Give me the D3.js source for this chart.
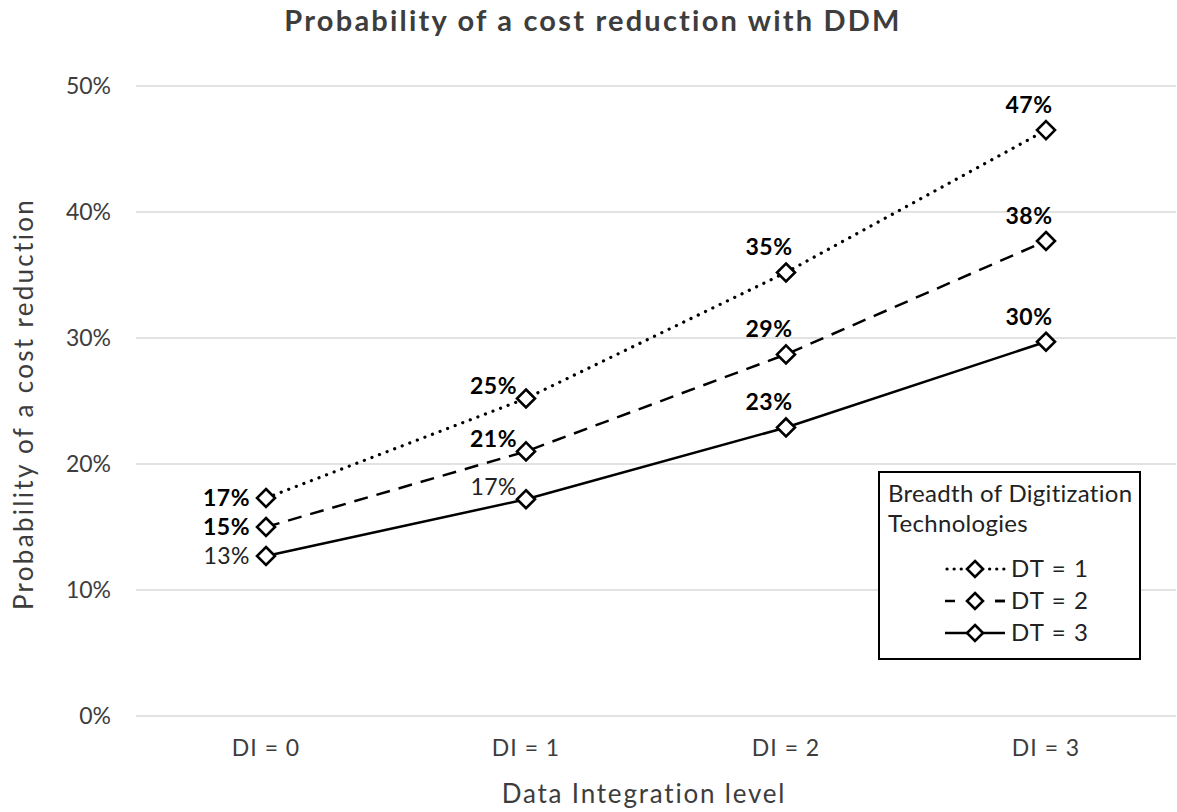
<!DOCTYPE html>
<html>
<head>
<meta charset="utf-8">
<script src="https://cdn.jsdelivr.net/npm/d3@7"></script>
<style>
  body { margin: 0; background: #fff; }
  svg { font-family: Lato, "Open Sans", sans-serif; }
</style>
</head>
<body>
<svg id="chart" width="1177" height="812"></svg>
<script>
var categories = ["DI = 0", "DI = 1", "DI = 2", "DI = 3"];
var seriesNames = ["DT = 1", "DT = 2", "DT = 3"];
var dt1 = [0.173, 0.252, 0.352, 0.465];
var dt2 = [0.150, 0.210, 0.287, 0.377];
var dt3 = [0.127, 0.172, 0.229, 0.297];
var dt1Labels = ["17%", "25%", "35%", "47%"];
var dt2Labels = ["15%", "21%", "29%", "38%"];
var dt3Labels = ["13%", "17%", "23%", "30%"];
// which labels are printed in bold
var dt1Bold = [true, true, true, true];
var dt2Bold = [true, true, true, true];
var dt3Bold = [false, false, true, true];
var yTicks = [0, 0.1, 0.2, 0.3, 0.4, 0.5];

var plotLeft = 136, plotRight = 1176;
var plotTop = 86, plotBottom = 716;
var textColor = "#3d3d3d";

var svg = d3.select("#chart");

var x = d3.scaleBand().domain(categories).range([plotLeft, plotRight]);
var y = d3.scaleLinear().domain([0, 0.5]).range([plotBottom, plotTop]);

// gridlines
svg.append("g")
    .selectAll("line")
    .data(yTicks)
    .join("line")
    .attr("x1", plotLeft).attr("x2", plotRight)
    .attr("y1", function(d) { return y(d); })
    .attr("y2", function(d) { return y(d); })
    .style("stroke", "#d9d9d9")
    .style("stroke-width", 1.5);

// y axis labels
var yAxis = d3.axisLeft(y).tickValues(yTicks).tickFormat(d3.format(".0%")).tickSize(0).tickPadding(25);
var yg = svg.append("g").attr("transform", "translate(" + plotLeft + ",0)").call(yAxis);
yg.select(".domain").remove();
yg.selectAll("text").style("font-size", "23px").style("fill", textColor).style("font-family", "Lato, sans-serif");

// x axis labels
var xAxis = d3.axisBottom(x).tickSize(0).tickPadding(24);
var xg = svg.append("g").attr("transform", "translate(0," + plotBottom + ")").call(xAxis);
xg.select(".domain").remove();
xg.selectAll("text").style("font-size", "23px").style("letter-spacing", "1px")
    .style("fill", textColor).style("font-family", "Lato, sans-serif");

// titles
svg.append("text")
    .attr("x", 593).attr("y", 31)
    .attr("text-anchor", "middle")
    .style("font-size", "29px").style("font-weight", "bold").style("letter-spacing", "2.2px")
    .style("fill", textColor)
    .text("Probability of a cost reduction with DDM");

svg.append("text")
    .attr("x", 644).attr("y", 803)
    .attr("text-anchor", "middle")
    .style("font-size", "26px").style("letter-spacing", "1.8px").style("fill", textColor)
    .text("Data Integration level");

svg.append("text")
    .attr("transform", "translate(33,404) rotate(-90)")
    .attr("text-anchor", "middle")
    .style("font-size", "26px").style("letter-spacing", "2.3px").style("fill", textColor)
    .text("Probability of a cost reduction");

var series = [
    { name: seriesNames[0], values: dt1, labels: dt1Labels, bold: dt1Bold, dash: "0.1 8", cap: "round", width: 3.2 },
    { name: seriesNames[1], values: dt2, labels: dt2Labels, bold: dt2Bold, dash: "14 9", cap: "butt", width: 2.5 },
    { name: seriesNames[2], values: dt3, labels: dt3Labels, bold: dt3Bold, dash: null, cap: "butt", width: 2.5 }
];

var line = d3.line()
    .x(function(d, i) { return x(categories[i]) + x.bandwidth() / 2; })
    .y(function(d) { return y(d); });

var diamond = function(cx, cy, r) {
    return "M" + cx + "," + (cy - r) + "L" + (cx + r) + "," + cy + "L" + cx + "," + (cy + r) + "L" + (cx - r) + "," + cy + "Z";
};

series.forEach(function(s) {
    svg.append("path")
        .datum(s.values)
        .attr("d", line)
        .style("fill", "none")
        .style("stroke", "#000")
        .style("stroke-width", s.width)
        .style("stroke-linecap", s.cap)
        .style("stroke-dasharray", s.dash);
});

series.forEach(function(s) {
    svg.append("g")
        .selectAll("path")
        .data(s.values)
        .join("path")
        .attr("d", function(d, i) { return diamond(x(categories[i]) + x.bandwidth() / 2, y(d), 9); })
        .style("fill", "#fff")
        .style("stroke", "#000")
        .style("stroke-width", 2.6);

    svg.append("g")
        .selectAll("text")
        .data(s.values)
        .join("text")
        .attr("x", function(d, i) {
            var cx = x(categories[i]) + x.bandwidth() / 2;
            if (i == 0) return cx - 16;
            if (i == 1) return cx - 9;
            return cx - 17;
        })
        .attr("y", function(d, i) {
            if (i == 0) return y(d) + 8;
            if (i == 1) return y(d) - 4;
            return y(d) - 17;
        })
        .attr("text-anchor", function(d, i) { return i < 2 ? "end" : "middle"; })
        .style("font-size", "23px")
        .style("letter-spacing", "0.5px")
        .style("font-weight", function(d, i) { return s.bold[i] ? "bold" : "normal"; })
        .style("fill", function(d, i) { return s.bold[i] ? "#000" : "#222"; })
        .text(function(d, i) { return s.labels[i]; });
});

// legend
var legend = svg.append("g");
legend.append("rect")
    .attr("x", 879).attr("y", 472).attr("width", 261).attr("height", 187)
    .style("fill", "#fff").style("stroke", "#000").style("stroke-width", 2);
legend.append("text").attr("x", 888).attr("y", 502)
    .style("font-size", "24px").style("letter-spacing", "0.3px").style("fill", "#222").text("Breadth of Digitization");
legend.append("text").attr("x", 888).attr("y", 532)
    .style("font-size", "24px").style("letter-spacing", "0.3px").style("fill", "#222").text("Technologies");

series.forEach(function(s, i) {
    var ly = 569 + i * 32;
    legend.append("line")
        .attr("x1", i == 0 ? 947 : 945).attr("x2", 1005)
        .attr("y1", ly).attr("y2", ly)
        .style("stroke", "#000")
        .style("stroke-width", s.width)
        .style("stroke-linecap", s.cap)
        .style("stroke-dasharray", i == 0 ? "0.1 7" : (i == 1 ? "10 40" : null));
    if (i == 1) {
        legend.append("line").attr("x1", 995).attr("x2", 1005).attr("y1", ly).attr("y2", ly)
            .style("stroke", "#000").style("stroke-width", s.width);
    }
    legend.append("path")
        .attr("d", diamond(975, ly, 8))
        .style("fill", "#fff").style("stroke", "#000").style("stroke-width", 2.6);
    legend.append("text")
        .attr("x", 1011).attr("y", ly + 8)
        .style("font-size", "24px").style("letter-spacing", "1.2px").style("fill", "#222")
        .text(s.name);
});
</script>
</body>
</html>
